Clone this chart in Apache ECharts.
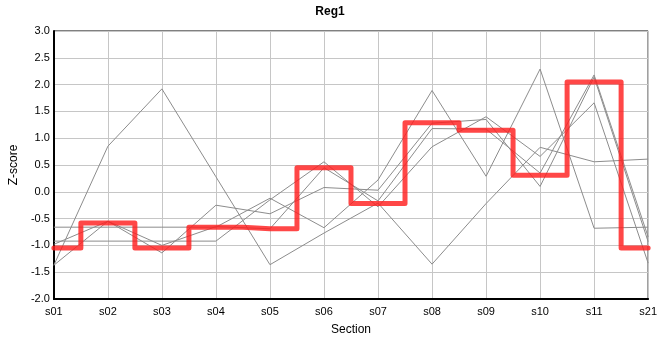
<!DOCTYPE html>
<html>
<head>
<meta charset="utf-8">
<script src="https://cdn.jsdelivr.net/npm/echarts@6/dist/echarts.min.js"></script>
<style>html,body{margin:0;padding:0;background:#fff}#c{width:660px;height:360px}</style>
</head>
<body>
<div id="c"></div>
<script>
const categories = ['s01','s02','s03','s04','s05','s06','s07','s08','s09','s10','s11','s21'];
const regValues = [-1.05, -0.58, -1.05, -0.66, -0.69, 0.45, -0.22, 1.29, 1.15, 0.31, 2.05, -1.05];
const grayA = [-1.37, 0.85, 1.92, 0.28, -1.36, -0.77, -0.21, -1.35, -0.22, 0.83, 0.56, 0.61];
const grayB = [-1.37, -0.55, -1.14, -0.25, -0.41, 0.08, 0.03, 1.28, 1.35, 0.10, 2.14, -0.93];
const grayC = [-0.98, -0.55, -1.00, -0.65, -0.69, 0.45, -0.17, 1.18, 1.17, 0.35, 2.18, -0.84];
const grayD = [-0.92, -0.92, -0.92, -0.92, -0.15, 0.56, -0.28, 0.84, 1.40, 0.66, 1.66, -1.33];
const grayE = [-0.66, -0.66, -0.66, -0.66, -0.12, -0.67, 0.22, 1.89, 0.29, 2.29, -0.68, -0.66];
const grays = [grayA, grayB, grayC, grayD, grayE];

const font = 'Liberation Sans';
const chart = echarts.init(document.getElementById('c'));
const series = grays.map(g => ({
  type: 'line', data: g, symbol: 'none', silent: true,
  lineStyle: { color: '#8c8c8c', width: 1 }
}));
series.push({
  type: 'line', data: regValues, step: 'middle', symbol: 'none',
  lineStyle: { color: 'rgba(255,30,30,0.82)', width: 5, join: 'round', cap: 'round' },
  z: 5
});
chart.setOption({
  animation: false,
  title: { text: 'Reg1', left: 'center', top: 1, textStyle: { fontFamily: font, fontSize: 12, fontWeight: 'bold', color: '#000' } },
  grid: { left: 50, right: 10, top: 31, bottom: 61, show: true, borderColor: '#000', borderWidth: 1 },
  xAxis: {
    type: 'category', data: categories, boundaryGap: false,
    name: 'Section', nameLocation: 'middle', nameGap: 25,
    nameTextStyle: { fontFamily: font, fontSize: 12, color: '#000' },
    axisLine: { onZero: false, lineStyle: { color: '#000', width: 2 } },
    axisTick: { show: false },
    axisLabel: { fontFamily: font, fontSize: 11, color: '#000', margin: 7 },
    splitLine: { show: true, lineStyle: { color: '#c6c6c6', width: 1 } }
  },
  yAxis: {
    type: 'value', min: -2, max: 3, interval: 0.5,
    name: 'Z-score', nameLocation: 'middle', nameGap: 32,
    nameTextStyle: { fontFamily: font, fontSize: 12, color: '#000' },
    axisLine: { show: true, onZero: false, lineStyle: { color: '#000', width: 2 } },
    axisTick: { show: false },
    axisLabel: { fontFamily: font, fontSize: 11, color: '#000', margin: 4, formatter: v => v.toFixed(1) },
    splitLine: { show: true, lineStyle: { color: '#c6c6c6', width: 1 } }
  },
  series: series
});
</script>
</body>
</html>
